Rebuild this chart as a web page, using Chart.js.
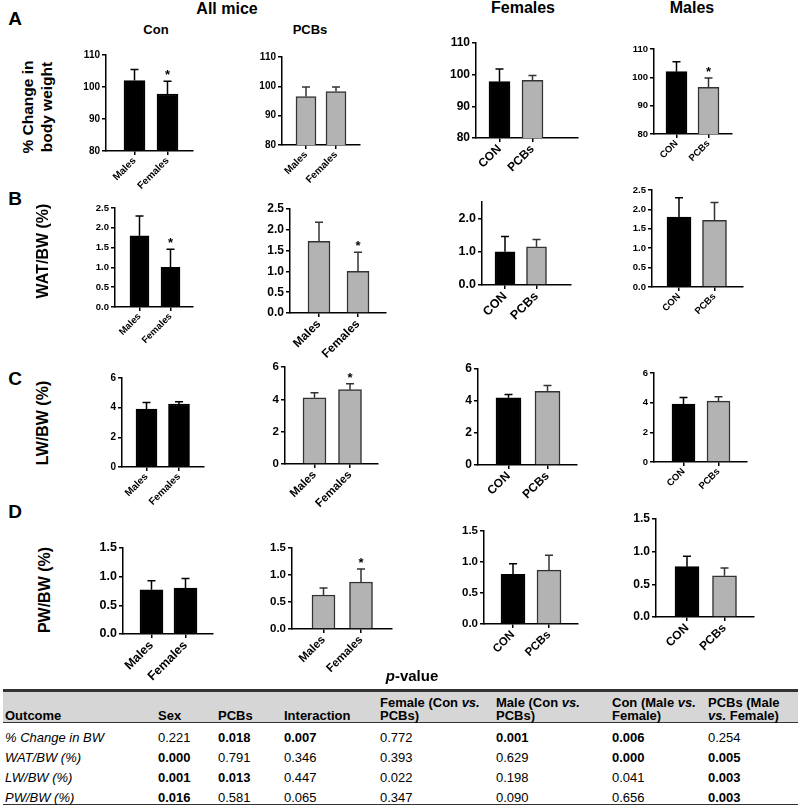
<!DOCTYPE html>
<html>
<head>
<meta charset="utf-8">
<script src="https://cdn.jsdelivr.net/npm/chart.js@4.4.1/dist/chart.umd.min.js"></script>
<style>
  body { margin: 0; background: #fff; }
  #fig { position: relative; width: 800px; height: 806px; overflow: hidden;
         font-family: 'Liberation Sans', Arial, sans-serif; color: #000; }
  #fig canvas { position: absolute; }
  .t { position: absolute; font-weight: bold; white-space: nowrap; line-height: 1; }
  .c { transform: translate(-50%, -50%); }
  .v { transform: translate(-50%, -50%) rotate(-90deg); text-align: center; }
  .cell { position: absolute; font-size: 13px; white-space: nowrap; line-height: 13px; }
</style>
</head>
<body>
<div id="fig"></div>
<script>
// ---- data ----
const sexLabels = ['Males', 'Females'];
const groupLabels = ['CON', 'PCBs'];

// columns: Con (by sex), PCBs (by sex), Females (CON/PCBs), Males (CON/PCBs)
const bwMean = [[102.0, 97.8], [96.5, 98.2], [97.8, 98.2], [102.0, 96.5]];
const bwSd = [[3.5, 4.0], [3.3, 1.6], [4.0, 1.5], [3.5, 3.3]];
const bwStar = [1, null, null, 1];

const watMean = [[1.80, 1.00], [1.72, 1.00], [1.00, 1.15], [1.80, 1.72]];
const watSd = [[0.50, 0.46], [0.46, 0.46], [0.46, 0.22], [0.50, 0.46]];
const watStar = [1, 1, null, null];

const lwMean = [[3.90, 4.25], [4.10, 4.60], [4.20, 4.60], [3.90, 4.10]];
const lwSd = [[0.45, 0.15], [0.30, 0.37], [0.20, 0.37], [0.45, 0.30]];
const lwStar = [null, 1, null, null];

const pwMean = [[0.77, 0.80], [0.63, 0.87], [0.80, 0.87], [0.77, 0.63]];
const pwSd = [[0.16, 0.17], [0.13, 0.24], [0.17, 0.24], [0.16, 0.12]];
const pwStar = [null, 1, null, null];

// y axis: min, max, step, decimals
const bwAxis = [80, 110, 10, 0];
const watAxis = [0, 2.5, 0.5, 1];
const lwAxis = [0, 6, 2, 0];
const pwAxis = [0, 1.5, 0.5, 1];

// p-value table
const tableHead1 = ['', '', '', '', 'Female (Con <i>vs.</i>', 'Male (Con <i>vs.</i>', 'Con (Male <i>vs.</i>', 'PCBs (Male'];
const tableHead2 = ['Outcome', 'Sex', 'PCBs', 'Interaction', 'PCBs)', 'PCBs)', 'Female)', '<i>vs.</i> Female)'];
const outcomes = ['% Change in BW', 'WAT/BW (%)', 'LW/BW (%)', 'PW/BW (%)'];
const pBW = ['0.221', '0.018', '0.007', '0.772', '0.001', '0.006', '0.254'];
const pWAT = ['0.000', '0.791', '0.346', '0.393', '0.629', '0.000', '0.005'];
const pLW = ['0.001', '0.013', '0.447', '0.022', '0.198', '0.041', '0.003'];
const pPW = ['0.016', '0.581', '0.065', '0.347', '0.090', '0.656', '0.003'];
const boldBW = [0, 1, 1, 0, 1, 1, 0];
const boldWAT = [1, 0, 0, 0, 0, 1, 1];
const boldLW = [1, 1, 0, 0, 0, 0, 1];
const boldPW = [1, 0, 0, 0, 0, 0, 1];

// ---- layout ----
const BLACK = '#000000';
const GREY = '#b3b3b3';
const GREY_EDGE = '#333333';

// per panel: axis left, axis right, top tick y, zero y, bar centres, bar width, font size
const layout = [
  [[106, 193, 55, 151, 134.5, 167.5, 21, 10], [282, 360, 57, 145, 306, 336, 20, 10],
   [476, 578, 43, 138, 499.5, 532.5, 21, 12], [654, 732, 49, 134, 676.5, 708.5, 21, 9.5]],
  [[115, 193, 208, 307, 139.5, 170.5, 19, 9.5], [290, 386, 209, 313, 319, 358, 22, 12],
   [482, 571, 202, 285, 505, 536.5, 20, 12.5], [652, 743, 190, 287, 679, 714.5, 24, 9.5]],
  [[122, 204, 378, 467, 146.5, 179, 21, 10], [285, 378, 367, 464, 314.5, 350, 23, 11.5],
   [478, 577, 369, 465, 508.5, 547.5, 25, 12], [654, 747, 373, 462, 683.5, 718.5, 23, 9.5]],
  [[123, 213, 548, 634, 151.5, 185.5, 23, 12.5], [292, 392, 548, 629, 323.5, 361, 23, 11.5],
   [484, 578, 531, 624, 513, 549, 24, 11.5], [656, 754, 519, 617, 687, 724.5, 24, 12]]
];

const rows = [
  [bwMean, bwSd, bwStar, bwAxis],
  [watMean, watSd, watStar, watAxis],
  [lwMean, lwSd, lwStar, lwAxis],
  [pwMean, pwSd, pwStar, pwAxis]
];

const fig = document.getElementById('fig');
Chart.defaults.font.family = "'Liberation Sans', Arial, sans-serif";

// upward-only error bars plus significance stars
const errorBars = {
  id: 'errorBars',
  afterDatasetsDraw(chart, args, opts) {
    const ctx = chart.ctx;
    const y = chart.scales.y;
    const meta = chart.getDatasetMeta(0);
    ctx.save();
    ctx.lineWidth = 1.5;
    meta.data.forEach(function(bar, i) {
      const v = chart.data.datasets[0].data[i].y;
      const top = y.getPixelForValue(v + opts.sd[i]);
      ctx.strokeStyle = opts.colors[i];
      ctx.beginPath();
      ctx.moveTo(bar.x, bar.y);
      ctx.lineTo(bar.x, top);
      ctx.moveTo(bar.x - 4, top);
      ctx.lineTo(bar.x + 4, top);
      ctx.stroke();
      if (opts.star === i) {
        ctx.fillStyle = '#000';
        ctx.font = 'bold 13px ' + Chart.defaults.font.family;
        ctx.textAlign = 'center';
        ctx.textBaseline = 'bottom';
        ctx.fillText('*', bar.x, top + 1);
      }
    });
    ctx.restore();
  }
};

const PAD_L = 40, PAD_T = 12, PAD_R = 8, PAD_B = 50;

function makePanel(r, c) {
  const [ax, rx, ty, by, c1, c2, bw, fs] = layout[r][c];
  const [means, sds, stars, axis] = rows[r];
  const cats = c < 2 ? sexLabels : groupLabels;
  const fills = c === 0 ? [BLACK, BLACK] : c === 1 ? [GREY, GREY] : [BLACK, GREY];
  const edges = fills.map(f => f === GREY ? GREY_EDGE : BLACK);
  const unit = c2 - c1;

  const canvas = document.createElement('canvas');
  const w = PAD_L + (rx - ax) + PAD_R;
  const h = PAD_T + (by - ty) + PAD_B;
  canvas.width = w; canvas.height = h;
  canvas.style.left = (ax - PAD_L) + 'px';
  canvas.style.top = (ty - PAD_T) + 'px';
  fig.appendChild(canvas);

  const font = { size: fs, weight: 'bold' };
  new Chart(canvas, {
    type: 'bar',
    data: {
      datasets: [{
        data: means[c].map((v, i) => ({ x: i, y: v })),
        backgroundColor: fills,
        borderColor: edges,
        borderWidth: 1.5,
        barThickness: bw
      }]
    },
    options: {
      responsive: false,
      animation: false,
      layout: { padding: { top: PAD_T, right: PAD_R, left: 0, bottom: 0 } },
      plugins: {
        legend: { display: false },
        tooltip: { enabled: false },
        errorBars: { sd: sds[c], colors: edges, star: stars[c] }
      },
      scales: {
        x: {
          type: 'linear',
          offset: false,
          min: -(c1 - ax) / unit,
          max: 1 + (rx - c2) / unit,
          afterBuildTicks: axisObj => { axisObj.ticks = [{ value: 0 }, { value: 1 }]; },
          afterFit: s => { s.height = PAD_B; },
          ticks: {
            callback: v => cats[v],
            minRotation: 45, maxRotation: 45, autoSkip: false,
            color: '#000', font: font, padding: 0
          },
          grid: { offset: false, drawOnChartArea: false, tickLength: 4, color: '#000', lineWidth: 1.5 },
          border: { color: '#000', width: 1.5 }
        },
        y: {
          min: axis[0], max: axis[1],
          afterFit: s => { s.width = PAD_L; },
          ticks: {
            stepSize: axis[2],
            callback: v => v.toFixed(axis[3]),
            color: '#000', font: font, padding: 2
          },
          grid: { drawOnChartArea: false, tickLength: 4, color: '#000', lineWidth: 1.5 },
          border: { color: '#000', width: 1.5 }
        }
      }
    },
    plugins: [errorBars]
  });
}

for (let r = 0; r < 4; r++) {
  for (let c = 0; c < 4; c++) makePanel(r, c);
}

// ---- text labels ----
function label(html, x, y, size, cls) {
  const d = document.createElement('div');
  d.className = 't ' + (cls || 'c');
  d.style.left = x + 'px';
  d.style.top = y + 'px';
  d.style.fontSize = size + 'px';
  d.innerHTML = html;
  fig.appendChild(d);
}

label('A', 15, 18, 19);
label('B', 15, 198, 19);
label('C', 15, 378, 19);
label('D', 15, 511, 19);
label('All mice', 227, 9, 16);
label('Con', 156, 29, 13);
label('PCBs', 310, 29, 13);
label('Females', 523, 8, 16);
label('Males', 692, 8, 16);
label('% Change in<br><span style="line-height:21px">body weight</span>', 38, 107, 15.5, 'v');
label('WAT/BW (%)', 43, 251, 16, 'v');
label('LW/BW (%)', 43, 423, 16, 'v');
label('PW/BW (%)', 45, 590, 16, 'v');
label('<i>p</i>-value', 412, 675, 15);

// ---- p-value table ----
const colX = [5, 158, 218, 284, 380, 496, 612, 708];
const tableVals = [pBW, pWAT, pLW, pPW];
const tableBold = [boldBW, boldWAT, boldLW, boldPW];

function box(x, y, w, h, bg) {
  const d = document.createElement('div');
  d.style.cssText = 'position:absolute;left:' + x + 'px;top:' + y + 'px;width:' + w + 'px;height:' + h + 'px;background:' + bg;
  fig.appendChild(d);
}
function cell(html, x, y, bold, italic) {
  const d = document.createElement('div');
  d.className = 'cell';
  d.style.left = x + 'px';
  d.style.top = y + 'px';
  if (bold) d.style.fontWeight = 'bold';
  if (italic) d.style.fontStyle = 'italic';
  d.innerHTML = html;
  fig.appendChild(d);
}

box(3, 690, 795, 32, '#d6d6d6');
box(3, 689, 795, 2.5, '#333');
box(3, 721.5, 795, 1.5, '#333');
box(3, 803.5, 795, 1.5, '#333');

colX.forEach((x, i) => {
  if (tableHead1[i]) cell(tableHead1[i], x, 696, true);
  cell(tableHead2[i], x, 709, true);
});
outcomes.forEach((name, r) => {
  const y = 731 + r * 20;
  cell(name, colX[0], y, false, true);
  tableVals[r].forEach((v, i) => cell(v, colX[i + 1], y, tableBold[r][i] === 1));
});
</script>
</body>
</html>
